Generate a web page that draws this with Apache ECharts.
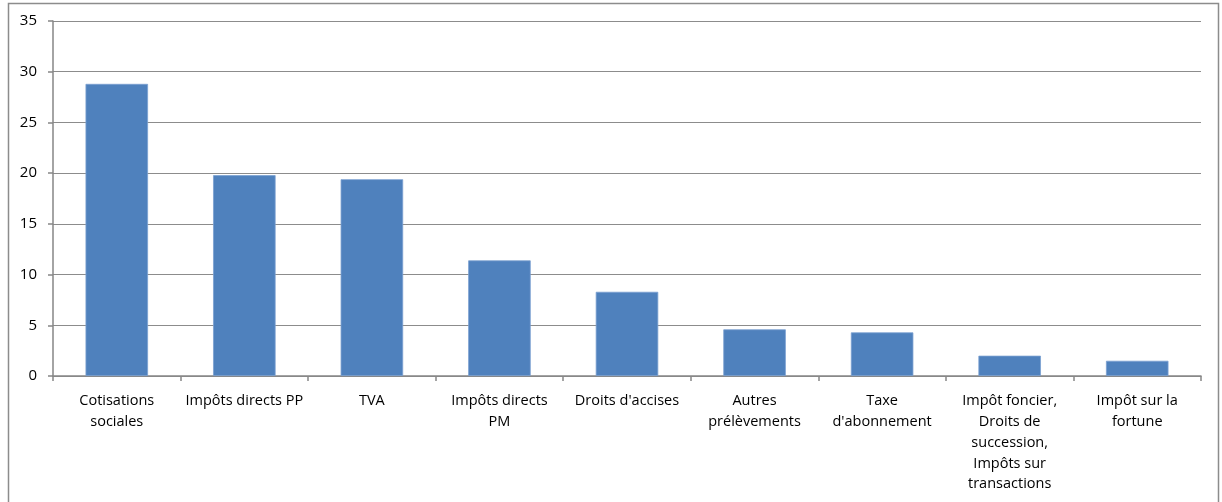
<!DOCTYPE html>
<html>
<head>
<meta charset="utf-8">
<script src="https://cdn.jsdelivr.net/npm/echarts@6/dist/echarts.min.js"></script>
<style>
html,body{margin:0;padding:0;background:#fff;}
#c{width:1222px;height:502px;}
</style>
</head>
<body>
<div id="c"></div>
<script>
const categories = [
  "Cotisations\nsociales",
  "Impôts directs PP",
  "TVA",
  "Impôts directs\nPM",
  "Droits d'accises",
  "Autres\nprélèvements",
  "Taxe\nd'abonnement",
  "Impôt foncier,\nDroits de\nsuccession,\nImpôts sur\ntransactions",
  "Impôt sur la\nfortune"
];
const values = [28.8, 19.8, 19.4, 11.4, 8.3, 4.6, 4.3, 2.0, 1.5];
const yTicks = [0, 5, 10, 15, 20, 25, 30, 35];

const chart = echarts.init(document.getElementById('c'), null, {renderer: 'canvas'});
const font = "'Open Sans', 'Noto Sans', sans-serif";
chart.setOption({
  animation: false,
  backgroundColor: '#fff',
  graphic: [{
    type: 'rect',
    shape: {x: 8.5, y: 3.5, width: 1210, height: 520},
    style: {fill: 'none', stroke: '#8c8c8c', lineWidth: 1.5},
    silent: true
  }],
  grid: {left: 53, right: 21, top: 21, bottom: 126, containLabel: false},
  xAxis: {
    type: 'category',
    data: categories,
    axisLine: {lineStyle: {color: '#868686', width: 1.5}},
    axisTick: {show: true, length: 5, lineStyle: {color: '#868686', width: 1.5}},
    axisLabel: {
      interval: 0,
      margin: 15,
      color: '#000',
      fontFamily: font,
      fontSize: 14.5,
      lineHeight: 20.7,
      align: 'center'
    }
  },
  yAxis: {
    type: 'value',
    min: yTicks[0],
    max: yTicks[yTicks.length - 1],
    interval: 5,
    axisLine: {show: true, lineStyle: {color: '#868686', width: 1.5}},
    axisTick: {show: true, length: 5, lineStyle: {color: '#868686', width: 1.5}},
    splitLine: {show: true, lineStyle: {color: '#8c8c8c', width: 1.2}},
    axisLabel: {
      color: '#000',
      fontFamily: font,
      fontSize: 15,
      margin: 16
    }
  },
  series: [{
    type: 'bar',
    data: values,
    barCategoryGap: '51%',
    itemStyle: {color: '#4F81BD', borderColor: '#7a9fd0', borderWidth: 0.8}
  }]
});
</script>
</body>
</html>
